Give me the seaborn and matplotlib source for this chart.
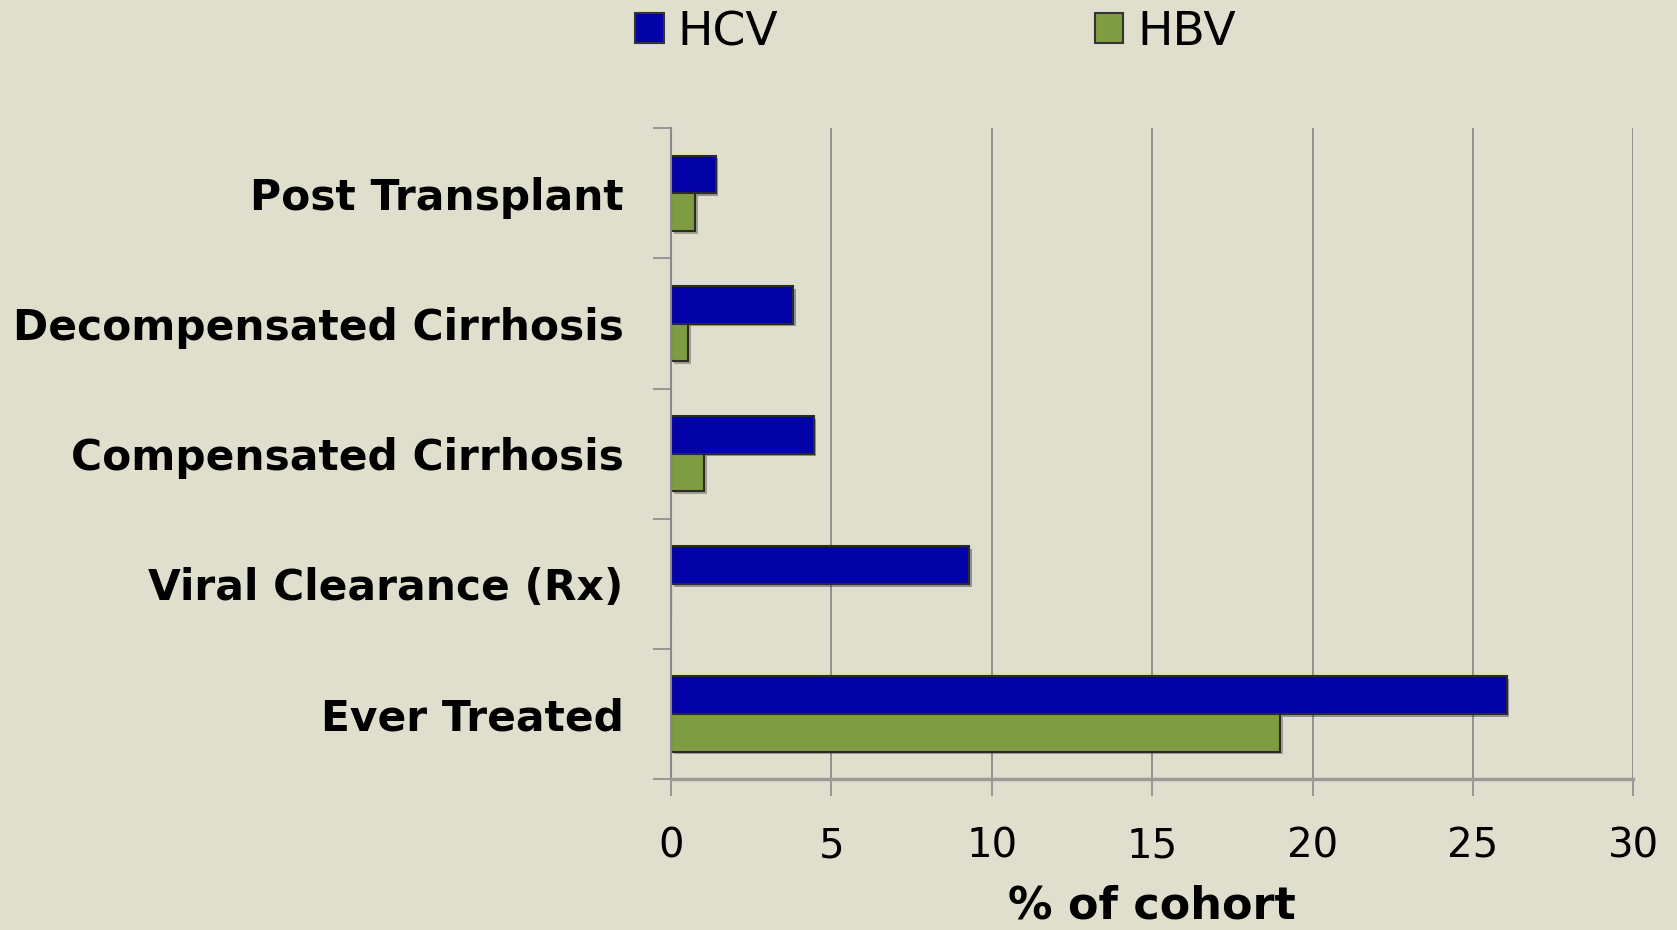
import numpy as np
import pandas as pd
import seaborn as sns
from matplotlib import pyplot as plt
from matplotlib import patheffects as pe
from matplotlib.patches import Patch

categories = ['Post Transplant', 'Decompensated Cirrhosis', 'Compensated Cirrhosis',
              'Viral Clearance (Rx)', 'Ever Treated']
hcv = [1.4, 3.8, 4.45, 9.3, 26.05]
hbv = [0.75, 0.55, 1.05, 0.0, 19.0]
series = ['HCV', 'HBV']
colors = {'HCV': '#0202a6', 'HBV': '#7f9c42'}
xticks = [0, 5, 10, 15, 20, 25, 30]

bg = '#e0dfce'
grey = '#8a8a8a'

df = pd.DataFrame({
    'category': categories * 2,
    'value': hcv + hbv,
    'series': ['HCV'] * len(categories) + ['HBV'] * len(categories),
})

sns.set_style('white')
plt.rcParams['text.color'] = 'black'
plt.rcParams['axes.labelcolor'] = 'black'
plt.rcParams['xtick.color'] = grey
plt.rcParams['ytick.color'] = grey
plt.rcParams['xtick.labelcolor'] = 'black'
plt.rcParams['ytick.labelcolor'] = 'black'

fig = plt.figure(figsize=(16.77, 9.30), dpi=100, facecolor=bg)
ax = fig.add_axes([0.400, 0.1624, 0.574, 0.6996])
ax.set_facecolor(bg)

sns.barplot(data=df, y='category', x='value', hue='series', order=categories,
            hue_order=series, palette=colors, saturation=1, orient='h', width=0.58,
            edgecolor='#2a2a2a', linewidth=1.5, legend=False, ax=ax)

# soft drop shadow like the original 3-D bars
for bar in ax.patches:
    bar.set_path_effects([pe.SimplePatchShadow(offset=(2, -2), alpha=0.35), pe.Normal()])

ax.set_xlim(0, 30)
ax.set_ylim(4.5, -0.5)
ax.set_xticks(xticks)
ax.set_xticklabels([str(t) for t in xticks], fontsize=29)
ax.tick_params(axis='x', bottom=True, length=12, width=1.2, pad=22)
ax.set_yticks(range(len(categories)))
ax.set_yticklabels(categories, fontsize=30.5, fontweight='bold')
ax.tick_params(axis='y', which='major', left=False, length=0, pad=34)
ax.set_yticks(np.arange(-0.5, len(categories), 1), minor=True)
ax.tick_params(axis='y', which='minor', left=True, length=13, width=1.2)

ax.xaxis.grid(True, color=grey, linewidth=1.3)
ax.yaxis.grid(False)
ax.set_axisbelow(True)
for side in ['top', 'right']:
    ax.spines[side].set_visible(False)
ax.spines['left'].set_color(grey)
ax.spines['left'].set_linewidth(1.5)
ax.spines['bottom'].set_color('#9a9a9a')
ax.spines['bottom'].set_linewidth(2.5)

ax.set_ylabel('')
ax.set_xlabel('% of cohort', fontsize=32, fontweight='bold', labelpad=13)

handles = [Patch(facecolor=colors[s], edgecolor='#333333', linewidth=1.5, label=s) for s in series]
fig.legend(handles=handles, loc='center', bbox_to_anchor=(0.558, 0.965), ncol=2,
           frameon=False, prop={'size': 34}, handlelength=0.6,
           handleheight=0.6, handletextpad=0.3, columnspacing=6.7)

plt.savefig('out.png', dpi=100, facecolor=bg)
